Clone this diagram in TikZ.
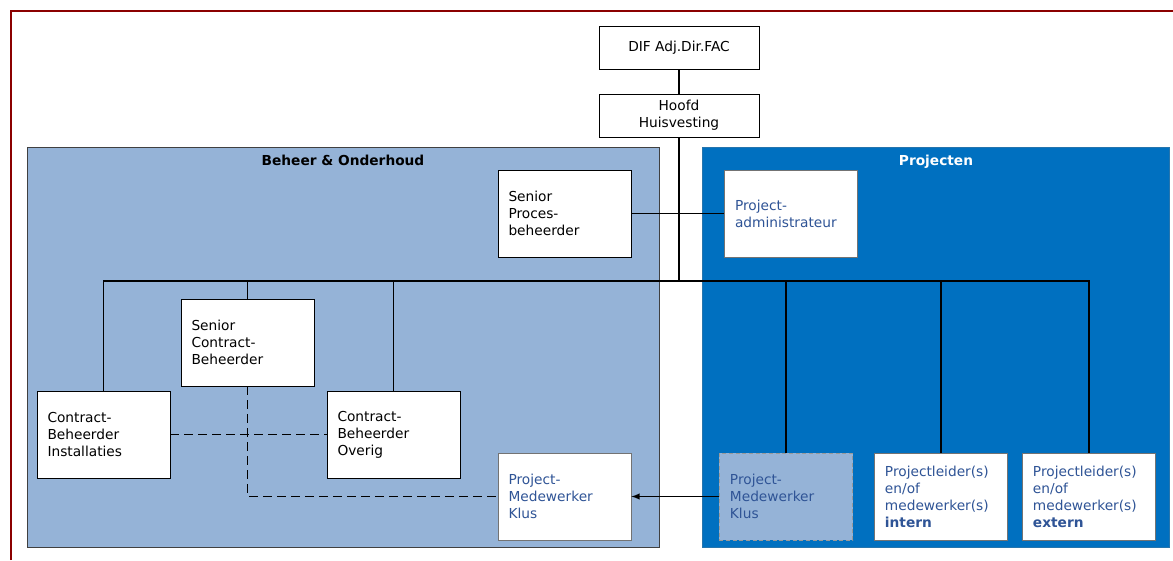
\documentclass[tikz,border=0pt]{standalone}
\usepackage{fontspec}
\setmainfont{DejaVu Sans}
\usetikzlibrary{positioning}

\definecolor{beheerblue}{RGB}{149,179,215}
\definecolor{projblue}{RGB}{0,112,192}
\definecolor{projtext}{RGB}{47,84,150}
\definecolor{framered}{RGB}{139,0,0}

\tikzset{
    txt/.style={font=\fontsize{10.3}{12.75}\selectfont},
    topbox/.style={draw, fill=white, txt, minimum width=120pt, minimum height=32.25pt, align=center},
    box/.style={draw, fill=white, txt, text width=84pt, inner xsep=8pt, minimum height=65.25pt, align=left},
    pbox/.style={box, draw=black!55, text=projtext},
    link/.style={line width=0.8pt},
    dashlink/.style={line width=1.3pt, dash pattern=on 6.5pt off 4pt},
}

\begin{document}
\begin{tikzpicture}[x=0.75pt,y=-0.75pt]
    \useasboundingbox (0,0) rectangle (1173,560);
    \draw[framered, line width=1.6pt] (11,560) -- (11,11) -- (1173,11);

    % groups
    \filldraw[fill=beheerblue, draw=black!75, line width=0.6pt] (27,147) rectangle (659,547);
    \filldraw[fill=projblue, draw=projblue!70!gray, line width=0.6pt] (702,147) rectangle (1169,547);
    \node[txt, font=\fontsize{10.3}{12.75}\selectfont\bfseries, anchor=base] (tbeheer) at (343,165) {Beheer \& Onderhoud};
    \node[txt, font=\fontsize{10.3}{12.75}\selectfont\bfseries, text=white, anchor=base] (tproj) at (936,165) {Projecten};

    \node[topbox] (dif) at (679,47.5) {DIF Adj.Dir.FAC};
    \node[topbox] (hoofd) [below of=dif,node distance=51pt] {Hoofd\\Huisvesting};

    \node[box] (spb) at (564.5,213.5) {Senior\\Proces-\\beheerder};
    \node[pbox] (pad) [right of=spb,node distance=169.9pt] {Project-\\administrateur};

    \node[box] (scb) at (247.5,342.5) {Senior\\Contract-\\Beheerder};
    \node[box] (cbi) at (103.5,434.5) {Contract-\\Beheerder\\Installaties};
    \node[box] (cbo) [right of=cbi,node distance=217.5pt] {Contract-\\Beheerder\\Overig};

    \node[pbox] (pmk) [below of=spb,node distance=212.25pt] {Project-\\Medewerker\\Klus};
    \node[pbox, fill=beheerblue, draw=black!40, densely dashed] (pmkx) [right of=pmk,node distance=166.1pt] {Project-\\Medewerker\\Klus};
    \node[pbox] (pli) [right of=pmkx,node distance=116.25pt] {Projectleider(s)\\en/of\\medewerker(s)\\\textbf{intern}};
    \node[pbox] (ple) [right of=pli,node distance=111pt] {Projectleider(s)\\en/of\\medewerker(s)\\\textbf{extern}};

    \coordinate (bus) at (679,281);

    \draw[link] (dif) -- (hoofd);
    \draw[line width=2pt] (hoofd) -- (bus);
    \draw[link] (spb) -- (pad);
    \draw[link, line width=1.4pt] (cbi.north) |- (bus);
    \draw[link] (scb.north) |- (bus);
    \draw[link] (cbo.north) |- (bus);
    \draw[link, line width=1.4pt] (ple.north) |- (bus);
    \draw[link] (pli.north) |- (bus);
    \draw[link] (pmkx.north) |- (bus);

    \draw[dashlink] (cbi) -- (cbo);
    \draw[dashlink] (scb.south) |- (pmk.west);
    \draw[->,>=latex,link,line width=1.1pt] (pmkx) -- (pmk);
\end{tikzpicture}
\end{document}
